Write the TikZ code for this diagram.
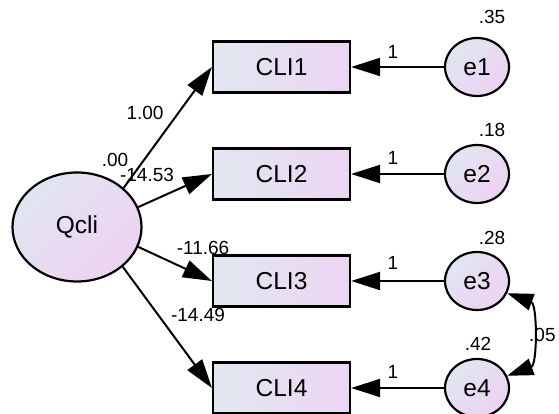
\documentclass[tikz,border=0pt]{standalone}
\usepackage{fontspec}
\setmainfont{Liberation Sans}
\usetikzlibrary{arrows.meta,shapes.geometric}

\definecolor{boxL}{RGB}{226,232,240}
\definecolor{boxR}{RGB}{236,213,243}
\definecolor{latL}{RGB}{224,230,240}
\definecolor{latR}{RGB}{238,210,243}

\tikzset{
  obsbox/.style={draw, line width=2.2pt, minimum width=137pt, minimum height=51pt,
    left color=boxL, right color=boxR, font=\fontsize{24.5}{28}\selectfont},
  latent/.style={ellipse, draw, line width=2.2pt, inner sep=0pt,
    top color=latL, bottom color=latR, shading angle=45,
    font=\fontsize{24.5}{28}\selectfont},
  errnode/.style={latent, minimum width=64pt, minimum height=58pt},
  regpath/.style={line width=2pt, -{Triangle[length=29pt,width=18pt]}},
  covpath/.style={line width=2pt, {Triangle[length=26pt,width=17pt]}-{Triangle[length=26pt,width=17pt]}},
  est/.style={font=\fontsize{19}{22}\selectfont, inner sep=0pt},
}

\begin{document}
\begin{tikzpicture}[x=1pt,y=1pt]
  \useasboundingbox (0,0) rectangle (559,414);

  % latent factor
  \node[latent, minimum width=129pt, minimum height=109pt] (Q) at (77,187) {Qcli};

  % indicators and errors
  \node[obsbox] (C1) at (281.5,347) {CLI1};
  \node[obsbox] (C2) at (281.5,240) {CLI2};
  \node[obsbox] (C3) at (281.5,133) {CLI3};
  \node[obsbox] (C4) at (281.5,26) {CLI4};
  \node[errnode] (e1) at (477,347) {e1};
  \node[errnode] (e2) at (477,240) {e2};
  \node[errnode] (e3) at (477,133) {e3};
  \node[errnode] (e4) at (477,26) {e4};

  % loadings
  \draw[regpath] (Q.40) -- (C1.west);
  \draw[regpath] (Q.18) -- (C2.west);
  \draw[regpath] (Q.-18) -- (C3.west);
  \draw[regpath] (Q.-41) -- (C4.west);
  \foreach \i in {1,...,4}
    \draw[regpath] (e\i.west) -- (C\i.east);

  % error covariance
  \draw[covpath] (e3.-22) to[out=-20,in=20] (e4.22);

  % estimates
  \node[est] (l1) at (145,301) {1.00};
  \node[est] (vq) at (115,254) {.00};
  \node[est] (l2) at (147,239) {-14.53};
  \node[est] (l3) at (203,166) {-11.66};
  \node[est] (l4) at (198,99) {-14.49};
  \node[est] (w1) at (393,362) {1};
  \node[est] (w2) at (393,256) {1};
  \node[est] (w3) at (393,151) {1};
  \node[est] (w4) at (393,42) {1};
  \node[est] (v1) at (492,397) {.35};
  \node[est] (v2) at (492,284) {.18};
  \node[est] (v3) at (492,176) {.28};
  \node[est] (v4) at (478,70) {.42};
  \node[est, anchor=west] (c34) at (529,79) {.05};
\end{tikzpicture}
\end{document}
